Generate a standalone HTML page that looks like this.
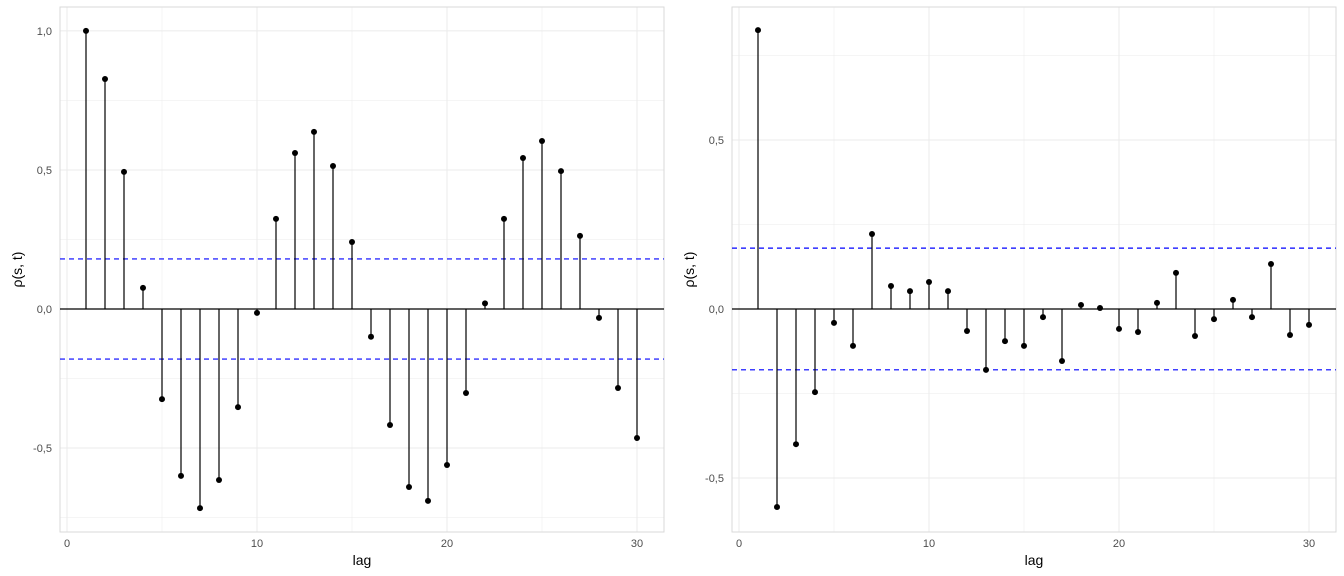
<!DOCTYPE html>
<html><head><meta charset="utf-8"><style>
html,body{margin:0;padding:0;background:#fff;}
svg{display:block;font-family:"Liberation Sans",sans-serif;}
</style></head><body>
<svg id="chart" width="1344" height="576" xmlns="http://www.w3.org/2000/svg"></svg>
<script>
const lags = Array.from({length:30},(_,i)=>i+1);
const acfValues = [1.0,0.827,0.493,0.076,-0.324,-0.60,-0.716,-0.615,-0.353,-0.014,0.324,0.561,0.637,0.514,0.241,-0.10,-0.417,-0.64,-0.69,-0.561,-0.302,0.02,0.324,0.543,0.604,0.496,0.263,-0.032,-0.284,-0.464];
const pacfValues = [0.825,-0.586,-0.40,-0.246,-0.041,-0.109,0.222,0.068,0.053,0.08,0.053,-0.065,-0.18,-0.095,-0.109,-0.024,-0.154,0.012,0.003,-0.059,-0.068,0.018,0.107,-0.08,-0.03,0.027,-0.024,0.133,-0.077,-0.047];
const confBound = 0.18;
const xTicks = [0,10,20,30];
const leftYTicks = [-0.5,0,0.5,1.0];
const rightYTicks = [-0.5,0,0.5];
const NS="http://www.w3.org/2000/svg";
const svg=document.getElementById('chart');
function mk(tag,attrs,parent){const e=document.createElementNS(NS,tag);for(const k in attrs)e.setAttribute(k,attrs[k]);(parent||svg).appendChild(e);return e;}
function fmt(v){return v.toFixed(1).replace('.',',');}
function panel(name,x0,x1,yTop,yBot,vTop,vBot,values,yTicks){
  const g=mk('g',{});
  
  
  const xs=v=>x0+7+(v)*19*(x1-x0)/604;
  const ys=v=>yTop+(vTop-v)/(vTop-vBot)*(yBot-yTop);
  // minor grid
  for(let t=-1;t<=1.5;t+=0.25){ if(t<vBot||t>vTop)continue; const l=mk('line',{x1:x0,x2:x1,y1:ys(t),y2:ys(t),stroke:'#ebebeb','stroke-width':Math.abs((t*4)%2)<1e-9?1:0.5},g);  }
  for(let t=-5;t<=35;t+=5){ const X=xs(t); if(X<x0||X>x1)continue; const l=mk('line',{x1:X,x2:X,y1:yTop,y2:yBot,stroke:'#ebebeb','stroke-width':t%10===0?1:0.5},g);  }
  const b=mk('rect',{x:x0,y:yTop,width:x1-x0,height:yBot-yTop,fill:'none',stroke:'#d9d9d9','stroke-width':1},g);
   
  // zero line
  const z=mk('line',{x1:x0,x2:x1,y1:ys(0),y2:ys(0),stroke:'#000','stroke-width':1.2},g);
   
  [confBound,-confBound].forEach(c=>{const l=mk('line',{x1:x0,x2:x1,y1:ys(c),y2:ys(c),stroke:'#0000ff','stroke-width':1.2,'stroke-dasharray':'5,4'},g);
     });
  lags.forEach((k,i)=>{const v=values[i];
    const s=mk('line',{x1:xs(k),x2:xs(k),y1:ys(0),y2:ys(v),stroke:'#000','stroke-width':1.2},g);
     
    const p=mk('circle',{cx:xs(k),cy:ys(v),r:3,fill:'#000'},g);
     });
  xTicks.forEach(t=>{const tx=mk('text',{x:xs(t),y:yBot+15,'text-anchor':'middle','font-size':11,fill:'#4d4d4d'},g);tx.textContent=t;
     });
  yTicks.forEach(t=>{const tx=mk('text',{x:x0-8,y:ys(t)+4,'text-anchor':'end','font-size':11,fill:'#4d4d4d'},g);tx.textContent=fmt(t);
     });
  const xl=mk('text',{x:(x0+x1)/2,y:565,'text-anchor':'middle','font-size':14,fill:'#000'},g);xl.textContent='lag';
   
  const yx=x0-38, yy=(yTop+yBot)/2;
  const yl=mk('text',{x:yx,y:yy,'text-anchor':'middle','font-size':14,fill:'#000',transform:`rotate(-90 ${yx} ${yy})`},g);yl.textContent='ρ(s, t)';
   
}
panel('acf-panel',60,664,7,532,1.086,-0.802,acfValues,leftYTicks);
panel('pacf-panel',732,1336,7,532,0.8935,-0.6598,pacfValues,rightYTicks);
</script>
</body></html>
